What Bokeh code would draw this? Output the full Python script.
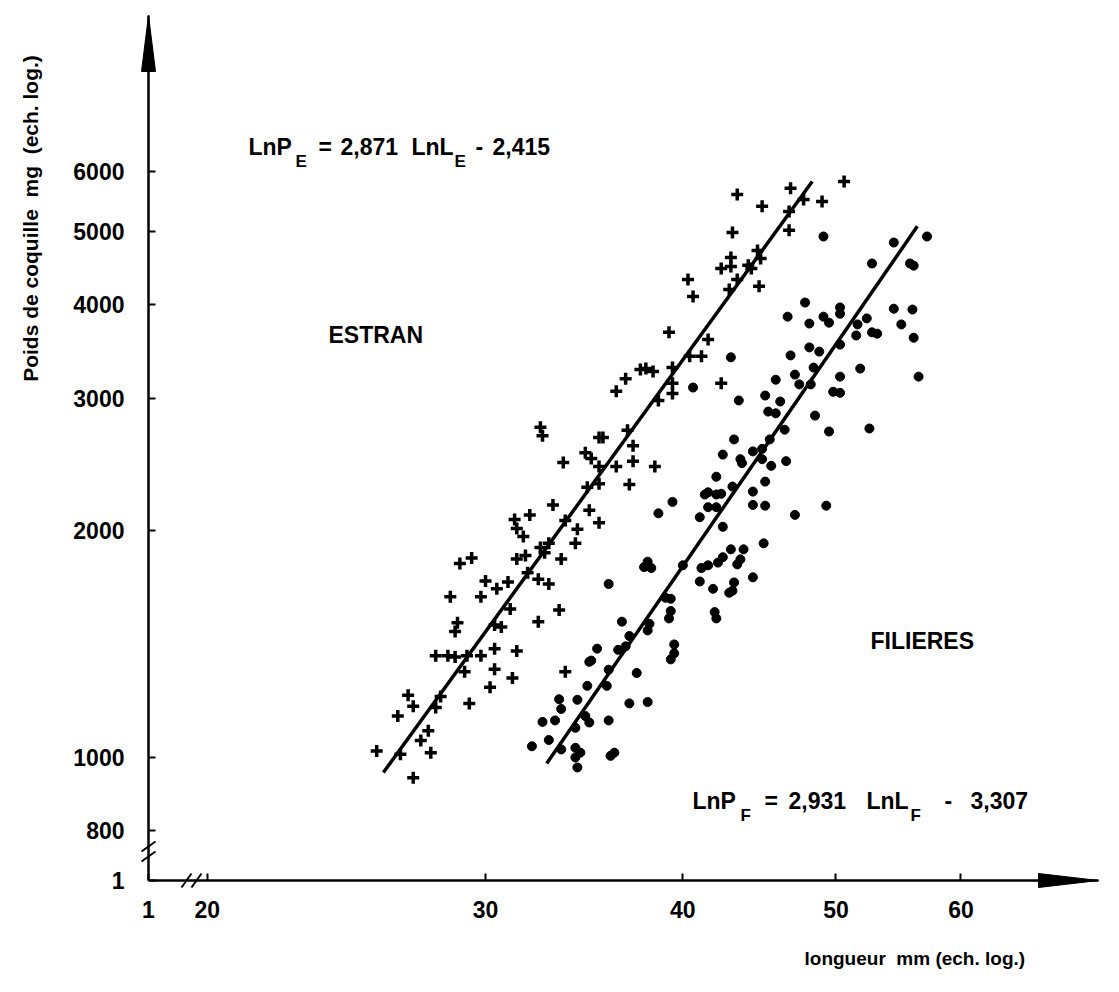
import math
from bokeh.plotting import figure
from bokeh.models import Range1d, FixedTicker, CustomJSTickFormatter, Label
from bokeh.embed import file_html
from bokeh.resources import INLINE

# ---------------- data (length mm, shell weight mg) ----------------
estran_L = [25.6, 27.0, 26.5, 27.7, 27.3, 27.6, 26.4, 27.0, 26.8, 27.9, 28.1, 29.3, 30.2, 29.1,
            30.4, 31.2, 27.9, 28.4, 28.7, 29.2, 29.8, 30.4, 31.4, 28.8, 28.7, 30.4, 30.7, 31.1,
            32.4, 33.4, 33.7, 28.5, 29.8, 30.0, 30.5, 31.0, 31.9, 32.4, 32.9, 28.9, 29.4, 31.4,
            31.8, 32.7, 33.5, 32.5, 32.9, 34.2, 31.4, 31.7, 31.3, 32.0, 33.7, 34.3, 33.1, 34.9,
            34.8, 33.6, 34.7, 35.0, 32.5, 32.6, 35.4, 35.4, 37.0, 35.4, 36.3, 37.2, 38.4, 37.2,
            36.9, 35.4, 35.6, 36.3, 36.8, 37.6, 37.9, 38.3, 38.6, 39.4, 39.4, 39.4, 39.2, 40.4,
            41.1, 41.5, 42.3, 40.6, 40.3, 42.8, 43.3, 44.7, 42.3, 42.9, 42.9, 44.0, 44.2, 44.6,
            44.8, 43.0, 46.7, 46.7, 44.9, 43.3, 46.8, 47.7, 49.0, 50.6]
estran_P = [1020, 940, 1010, 1015, 1053, 1085, 1135, 1170, 1210, 1165, 1205, 1180, 1240, 1300,
            1310, 1275, 1365, 1365, 1360, 1365, 1365, 1395, 1385, 1510, 1470, 1500, 1490, 1575,
            1515, 1570, 1300, 1635, 1635, 1715, 1675, 1710, 1760, 1725, 1700, 1810, 1840, 1835,
            1855, 1870, 1835, 1900, 1925, 1925, 2015, 1965, 2070, 2100, 2065, 2010, 2165, 2130,
            2285, 2465, 2540, 2495, 2745, 2675, 2050, 2310, 2305, 2435, 2435, 2475, 2435, 2595,
            2720, 2660, 2660, 3065, 3185, 3275, 3285, 3255, 2980, 3140, 3045, 3295, 3670, 3410,
            3410, 3590, 3140, 4095, 4315, 4185, 4315, 4225, 4460, 4490, 4615, 4505, 4460, 4715,
            4600, 4980, 5015, 5310, 5395, 5595, 5700, 5510, 5475, 5820]

filieres_L = [34.9, 34.8, 33.4, 34.3, 33.5, 32.6, 33.2, 34.7, 34.2, 32.9, 32.1, 33.5, 34.2, 34.45,
              34.2, 34.3, 34.9, 35.9, 36.2, 36.0, 37.0, 38.0, 35.8, 35.9, 37.4, 35.0, 35.3, 36.4,
              36.8, 37.0, 38.1, 38.0, 36.6, 39.5, 39.5, 39.3, 35.9, 39.0, 39.3, 39.3, 39.2, 41.9,
              42.0, 41.0, 41.8, 43.0, 42.8, 43.1, 44.3, 40.0, 41.5, 41.1, 38.0, 37.8, 38.2, 42.4,
              42.1, 43.5, 43.3, 45.0, 43.7, 42.9,
              40.6, 42.0, 41.3, 41.5, 42.0, 42.3, 39.4, 41.5, 42.0, 38.6, 41.0, 42.4, 44.3, 45.1,
              49.3, 47.1, 43.0, 45.1, 44.3, 42.4, 44.3, 44.9, 43.5, 43.6, 44.9, 46.5, 45.5, 43.1,
              45.4, 46.4, 49.5, 52.5, 45.3, 45.8, 48.5, 45.1, 43.4, 46.1, 49.8, 50.3, 45.8, 47.4,
              48.2, 47.1, 48.4, 51.8, 50.3, 56.4, 42.9,
              47.8, 46.6, 48.1, 48.1, 48.8, 46.8, 49.1, 57.1, 54.4, 52.7, 55.7, 56.0, 50.3, 50.3,
              54.4, 55.9, 49.1, 49.5, 52.3, 51.6, 55.0, 52.7, 53.1, 51.5, 56.0, 50.3]
filieres_P = [1340, 1245, 1195, 1193, 1160, 1115, 1120, 1135, 1095, 1055, 1035, 1025, 1030, 1015,
              1000, 970, 1113, 1120, 1015, 1005, 1180, 1185, 1245, 1308, 1295, 1345, 1395, 1390,
              1405, 1450, 1505, 1475, 1515, 1413, 1375, 1350, 1700, 1630, 1625, 1565, 1530, 1560,
              1530, 1713, 1675, 1665, 1655, 1708, 1735, 1800, 1800, 1785, 1820, 1790, 1785, 1845,
              1815, 1833, 1805, 1925, 1890, 1890,
              3100, 2360, 2235, 2250, 2235, 2240, 2185, 2150, 2150, 2110, 2085, 2025, 2165, 2160,
              2160, 2100, 2290, 2325, 2255, 2525, 2550, 2570, 2490, 2460, 2490, 2475, 2440, 2645,
              2645, 2725, 2710, 2735, 2880, 2865, 2845, 3025, 2980, 2970, 3060, 3050, 3175, 3130,
              3130, 3225, 3295, 3285, 3205, 3205, 3400,
              4020, 3850, 3770, 3505, 3460, 3420, 4920, 4920, 4830, 4530, 4530, 4500, 3960, 3885,
              3945, 3935, 3850, 3780, 3830, 3760, 3760, 3670, 3655, 3635, 3610, 3535]

# fitted lines as drawn (end points)
estran_fit_L = [25.85, 48.3]
estran_fit_P = [955, 5820]
filieres_fit_L = [32.8, 56.3]
filieres_fit_P = [982, 5075]

x_ticks = [20, 30, 40, 50, 60]
y_ticks = [800, 1000, 2000, 3000, 4000, 5000, 6000]

# ---------------- layout helpers ----------------
W, H = 1119, 992
KX, KY = 686.0, 327.0          # pixels per natural-log unit
FL, FR, FT, FB = 0, W, 0, H    # frame covers the whole canvas
AXX, AXY = 148, 880            # canvas position of the axes origin
TIPX, TIPY = 1098, 15          # arrow tips


def Lc(cx):
    return 30.0 * math.exp((cx - 485) / KX)


def Pc(cy):
    return 1000.0 * math.exp((757 - cy) / KY)


x0, y0 = Lc(AXX), Pc(AXY)
xtip, ytip = Lc(TIPX), Pc(TIPY)

p = figure(width=W, height=H, x_axis_type="log", y_axis_type="log",
           x_range=Range1d(Lc(FL), Lc(FR)), y_range=Range1d(Pc(FB), Pc(FT)),
           output_backend="svg", toolbar_location=None,
           min_border_left=0, min_border_right=0, min_border_top=0, min_border_bottom=0)
p.outline_line_color = None
p.grid.visible = False
p.background_fill_color = "white"
p.border_fill_color = "white"

FONT = "Liberation Sans"

for ax, ticks, orig in ((p.xaxis[0], x_ticks, x0), (p.yaxis[0], y_ticks, y0)):
    ax.ticker = FixedTicker(ticks=[orig] + ticks, minor_ticks=[])
    ax.formatter = CustomJSTickFormatter(
        args=dict(o=orig),
        code="return (Math.abs(tick - o) < 1e-6) ? '1' : String(Math.round(tick));")
    ax.axis_line_color = None
    ax.major_tick_in = 7
    ax.major_tick_out = 0
    ax.minor_tick_in = 0
    ax.minor_tick_out = 0
    ax.major_tick_line_width = 2
    ax.major_tick_line_color = "black"
    ax.major_label_text_font = FONT
    ax.major_label_text_font_style = "bold"
    ax.major_label_text_font_size = "23px"
    ax.major_label_text_color = "black"

p.xaxis[0].fixed_location = y0
p.yaxis[0].fixed_location = x0
p.xaxis[0].major_label_standoff = 20
p.yaxis[0].major_label_standoff = 24

# axis lines
p.line([x0, xtip], [y0, y0], line_color="black", line_width=2.5)
p.line([x0, x0], [y0, ytip], line_color="black", line_width=2.5)

# arrow heads
p.patch([Lc(AXX - 7), x0, Lc(AXX + 7)], [Pc(TIPY + 56), ytip, Pc(TIPY + 56)],
        fill_color="black", line_color="black")
p.patch([Lc(TIPX - 60), xtip, Lc(TIPX - 60)], [Pc(AXY - 7), y0, Pc(AXY + 7)],
        fill_color="black", line_color="black")

# axis breaks
for cy in (846, 856):
    p.segment(x0=[Lc(AXX - 7)], y0=[Pc(cy + 5)], x1=[Lc(AXX + 7)], y1=[Pc(cy - 5)],
              line_color="black", line_width=2)
for cx in (186, 196):
    p.segment(x0=[Lc(cx - 5)], y0=[Pc(AXY + 7)], x1=[Lc(cx + 5)], y1=[Pc(AXY - 7)],
              line_color="black", line_width=2)

# data
p.scatter(estran_L, estran_P, marker="cross", size=12, line_width=3.5, line_color="black")
p.scatter(filieres_L, filieres_P, marker="circle", size=9, fill_color="black", line_color="black")
p.line(estran_fit_L, estran_fit_P, line_color="black", line_width=3.5)
p.line(filieres_fit_L, filieres_fit_P, line_color="black", line_width=3.5)


def lab(text, cx, cy, size=22, angle=0.0, align="left"):
    p.add_layout(Label(x=Lc(cx), y=Pc(cy), text=text, angle=angle,
                       text_font=FONT, text_font_style="bold",
                       text_font_size=f"{size}px", text_color="black",
                       text_align=align, text_baseline="middle"))


NB = "\u00a0"

# equations
for t, cx, cy, s in [("LnP", 248, 146, 23), ("E", 295, 161, 17), ("=", 318, 146, 23),
                     ("2,871", 340, 146, 23), ("LnL", 411, 146, 23), ("E", 454, 161, 17),
                     ("-", 475, 146, 23), ("2,415", 492, 146, 23)]:
    lab(t, cx, cy, s)
for t, cx, cy, s in [("LnP", 692, 800, 23), ("F", 740, 815, 17), ("=", 764, 800, 23),
                     ("2,931", 788, 800, 23), ("LnL", 866, 800, 23), ("F", 910, 815, 17),
                     ("-", 944, 800, 23), ("3,307", 970, 800, 23)]:
    lab(t, cx, cy, s)

lab("ESTRAN", 328, 334, 23)
lab("FILIERES", 870, 640, 23)
lab("longueur" + NB * 2 + "mm (ech. log.)", 804, 958, 19)
lab("Poids de coquille" + NB * 2 + "mg" + NB * 2 + "(ech. log.)", 30, 218, 21,
    angle=math.pi / 2, align="center")

open("out.html", "w").write(file_html(p, INLINE))
